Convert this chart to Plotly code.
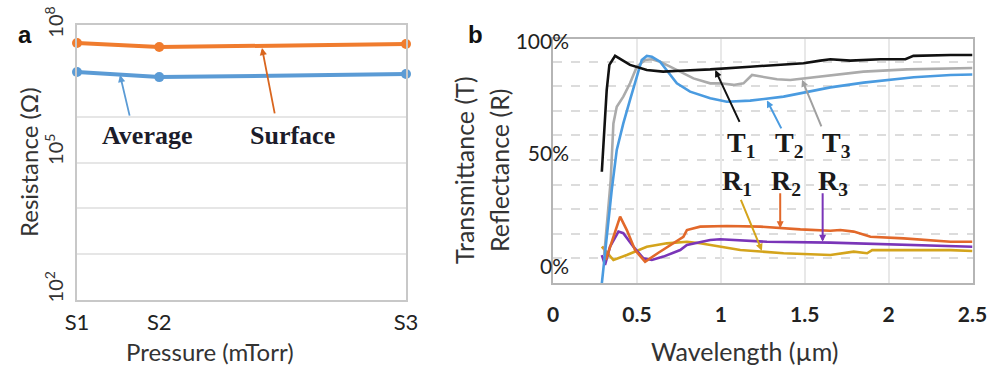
import plotly.graph_objects as go

# ---------------- Panel a data ----------------
pressure = [1, 2, 5]
pressure_labels = ["S1", "S2", "S3"]
surface_res = [4.05e7, 3.3e7, 3.85e7]
average_res = [9.4e6, 7.3e6, 8.5e6]
res_ticks = [1e2, 1e5, 1e8]
res_ticktext = ["&nbsp;&nbsp;&nbsp;&nbsp;10<sup>2</sup>", "&nbsp;&nbsp;&nbsp;&nbsp;10<sup>5</sup>", "10<sup>8</sup>"]

# ---------------- Panel b data ----------------
t1_wl = [0.291, 0.304, 0.320, 0.336, 0.370, 0.410, 0.459, 0.559, 0.656, 0.758, 0.937, 1.175, 1.493, 1.593, 1.653, 1.772, 1.951, 2.10, 2.148, 2.369, 2.5]
t1_val = [42.1, 56.2, 78.4, 89.6, 93.6, 91.8, 89.6, 87.3, 86.6, 87.0, 87.6, 88.8, 90.3, 91.5, 92.1, 91.5, 92.1, 92.1, 93.6, 94.0, 94.0]

t2_wl = [0.291, 0.320, 0.350, 0.380, 0.419, 0.459, 0.499, 0.529, 0.559, 0.589, 0.638, 0.678, 0.738, 0.817, 0.937, 1.036, 1.175, 1.374, 1.533, 1.653, 1.851, 2.150, 2.369, 2.5]
t2_val = [-7.5, 13.2, 34.0, 51.8, 63.6, 74.0, 84.4, 91.8, 93.6, 93.2, 91.0, 87.3, 81.4, 77.7, 74.8, 73.2, 73.7, 75.5, 77.7, 79.6, 81.7, 84.1, 85.1, 85.3]

t3_wl = [0.305, 0.330, 0.344, 0.360, 0.380, 0.419, 0.459, 0.499, 0.549, 0.589, 0.638, 0.698, 0.758, 0.837, 0.937, 0.996, 1.076, 1.135, 1.186, 1.235, 1.335, 1.414, 1.493, 1.653, 1.850, 2.110, 2.369, 2.5]
t3_val = [5.0, 25.0, 38.4, 63.6, 71.0, 75.5, 81.4, 88.8, 91.8, 92.1, 91.0, 88.8, 86.6, 83.6, 81.4, 81.4, 80.7, 81.4, 85.1, 84.4, 83.2, 82.9, 83.6, 85.1, 86.6, 87.6, 88.1, 88.2]

r1_wl = [0.291, 0.360, 0.440, 0.559, 0.678, 0.798, 0.877, 0.996, 1.116, 1.374, 1.653, 1.792, 1.872, 1.902, 2.369, 2.5]
r1_val = [8.8, 2.9, 5.1, 8.8, 10.3, 11.0, 10.3, 8.8, 7.3, 5.9, 5.1, 6.6, 5.9, 7.3, 7.3, 6.9]

r2_wl = [0.305, 0.315, 0.400, 0.440, 0.489, 0.549, 0.626, 0.698, 0.777, 0.798, 0.877, 1.036, 1.235, 1.474, 1.653, 1.712, 1.792, 1.892, 2.090, 2.369, 2.5]
r2_val = [9.0, 3.0, 22.2, 16.2, 7.3, 2.1, 6.0, 9.6, 13.2, 16.2, 17.7, 18.0, 17.7, 16.5, 15.9, 16.2, 15.5, 13.2, 12.5, 11.0, 11.0]

r3_wl = [0.291, 0.310, 0.340, 0.390, 0.419, 0.479, 0.539, 0.589, 0.658, 0.758, 0.798, 0.877, 0.937, 0.996, 1.275, 1.653, 1.892, 2.369, 2.5]
r3_val = [5.1, 0.7, 8.8, 15.5, 14.8, 8.8, 3.6, 2.9, 4.4, 7.3, 9.6, 11.0, 11.8, 12.1, 11.0, 10.6, 10.0, 8.8, 8.8]

wl_ticks = [0, 0.5, 1, 1.5, 2, 2.5]
wl_ticktext = ["0", "0.5", "1", "1.5", "2", "2.5"]
pct_ticks = [0, 50, 100]
pct_ticktext = ["0%", "50%", "100%"]

W, H = 988, 366
def px(x):
    return x / W
def py(y):
    return 1 - y / H

SANS = "Lato, 'Open Sans', sans-serif"
SERIF = "'Liberation Serif', 'DejaVu Serif', serif"

ORANGE_A = "#f07c2e"
BLUE_A = "#5b9bd5"

fig = go.Figure()

# Panel a traces
fig.add_trace(go.Scatter(x=pressure, y=surface_res, mode="lines+markers",
                         line=dict(color=ORANGE_A, width=4), marker=dict(size=10, color=ORANGE_A),
                         cliponaxis=False, xaxis="x", yaxis="y", showlegend=False))
fig.add_trace(go.Scatter(x=pressure, y=average_res, mode="lines+markers",
                         line=dict(color=BLUE_A, width=4), marker=dict(size=10, color=BLUE_A),
                         cliponaxis=False, xaxis="x", yaxis="y", showlegend=False))

# Panel b traces
series_b = [
    (r1_wl, r1_val, "#d4a41c"),
    (r3_wl, r3_val, "#7a35b8"),
    (r2_wl, r2_val, "#e2682a"),
    (t3_wl, t3_val, "#ababab"),
    (t2_wl, t2_val, "#4a9be0"),
    (t1_wl, t1_val, "#111111"),
]
for xs, ys, c in series_b:
    fig.add_trace(go.Scatter(x=xs, y=ys, mode="lines", line=dict(color=c, width=2.6),
                             xaxis="x2", yaxis="y2", showlegend=False))

fig.update_layout(
    template="none",
    width=W, height=H,
    margin=dict(l=0, r=0, t=0, b=0, autoexpand=False),
    paper_bgcolor="white", plot_bgcolor="white",
    font=dict(family=SANS, color="#333333"),
    xaxis=dict(domain=[px(77), px(406)], range=[1, 5], tickvals=pressure, ticktext=pressure_labels,
               automargin=False,
               showgrid=False, zeroline=False, showline=True, mirror=True, linecolor="#c8c8c8", linewidth=1.5,
               ticks="", ticklabelstandoff=2, tickfont=dict(size=22, color="#222222", family=SANS),
               anchor="y"),
    yaxis=dict(domain=[py(300), py(25)], type="log", range=[2, 8], automargin=False,
               tickvals=res_ticks, ticktext=res_ticktext,
               tickangle=-90, ticks="", ticklabelstandoff=4,
               tickfont=dict(size=20, color="#333333", family=SANS),
               showgrid=True, gridcolor="#e6e6e6", gridwidth=1.5,
               minor=dict(tickvals=[1e3, 1e4, 1e6], showgrid=True, gridcolor="#e6e6e6", gridwidth=1.5),
               zeroline=False, showline=True, mirror=True, linecolor="#c8c8c8", linewidth=1.5,
               anchor="x"),
    xaxis2=dict(domain=[px(553), px(972.5)], range=[0, 2.5], tickvals=wl_ticks, ticktext=wl_ticktext,
                automargin=False,
                showgrid=True, gridcolor="#e8e8e8", gridwidth=1.5, zeroline=False,
                showline=True, mirror=True, linecolor="#b5b5b5", linewidth=1.5,
                ticks="", ticklabelstandoff=12,
                tickfont=dict(size=21, color="#222222", family="Lato, sans-serif", weight="bold"),
                anchor="y2"),
    yaxis2=dict(domain=[py(283), py(39)], range=[-7.33, 101.1], tickvals=pct_ticks, ticktext=pct_ticktext,
                automargin=False,
                showgrid=False, zeroline=False,
                minor=dict(tick0=3.6, dtick=10.93, showgrid=True, gridcolor="#dcdcdc", griddash="dash", gridwidth=1.5),
                showline=True, mirror=True, linecolor="#b5b5b5", linewidth=1.5,
                ticks="", ticklabelstandoff=-22,
                tickfont=dict(size=21, color="#222222", family=SANS),
                anchor="x2"),
)

ann = []
def paper_text(text, x, y, size, angle=0, color="#333333", family=SANS):
    ann.append(dict(text=text, x=px(x), y=py(y), xref="paper", yref="paper", showarrow=False,
                    xanchor="center", yanchor="middle", textangle=angle,
                    font=dict(size=size, color=color, family=family)))

# panel letters
paper_text("<b>a</b>", 25, 34, 24, color="#111111", family="Liberation Sans, Arial, sans-serif")
paper_text("<b>b</b>", 475, 34, 24, color="#111111", family="Liberation Sans, Arial, sans-serif")
# axis titles
paper_text("Pressure (mTorr)", 210, 351, 24)
paper_text("Resistance (Ω)", 28, 162, 24, angle=-90)
paper_text("Wavelength (µm)", 744, 351, 25)
paper_text("Transmittance (T)", 464, 170, 25, angle=-90)
paper_text("Reflectance (R)", 499, 170, 25, angle=-90)

# panel a labels + arrows
lab_font = dict(size=26, color="#1c1c2a", family=SERIF)
ann.append(dict(text="<b>Average</b>", x=1.857, y=5.6, xref="x", yref="y", showarrow=False, font=lab_font))
ann.append(dict(text="<b>Surface</b>", x=3.626, y=5.6, xref="x", yref="y", showarrow=False, font=lab_font))
ann.append(dict(text="", x=1.523, y=6.91, ax=1.644, ay=5.99, xref="x", yref="y", axref="x", ayref="y",
                showarrow=True, arrowhead=2, arrowsize=0.8, arrowwidth=1.8, arrowcolor=BLUE_A))
ann.append(dict(text="", x=3.249, y=7.50, ax=3.407, ay=6.04, xref="x", yref="y", axref="x", ayref="y",
                showarrow=True, arrowhead=2, arrowsize=0.8, arrowwidth=1.8, arrowcolor="#d9661f"))

# panel b labels
lab_b = dict(size=28, color="#1a1a1a", family=SERIF)
for txt, xl, yl in [("T<sub>1</sub>", 1.026, 54.0), ("T<sub>2</sub>", 1.310, 54.0), ("T<sub>3</sub>", 1.593, 54.0),
                    ("R<sub>1</sub>", 0.996, 37.5), ("R<sub>2</sub>", 1.289, 37.5), ("R<sub>3</sub>", 1.569, 37.5)]:
    ann.append(dict(text="<b>" + txt + "</b>", x=xl, y=yl, xref="x2", yref="y2", xanchor="left", yanchor="middle",
                    showarrow=False, font=lab_b))
# panel b arrows
for (hx, hy, tx, ty, c) in [(0.967, 87.3, 1.116, 63.6, "#111111"),
                            (1.275, 73.8, 1.365, 60.7, "#4a9be0"),
                            (1.484, 83.0, 1.603, 61.6, "#a0a0a0"),
                            (1.245, 7.0, 1.116, 30.3, "#d4a41c"),
                            (1.354, 17.0, 1.354, 33.2, "#e2682a"),
                            (1.607, 11.0, 1.607, 33.2, "#7a35b8")]:
    ann.append(dict(text="", x=hx, y=hy, ax=tx, ay=ty, xref="x2", yref="y2", axref="x2", ayref="y2",
                    showarrow=True, arrowhead=2, arrowsize=0.7, arrowwidth=2, arrowcolor=c))

fig.update_layout(annotations=ann)
fig.write_html("out.html", config={"displayModeBar": False},
               post_script="document.body.style.margin='0px';document.body.style.overflow='hidden';")
